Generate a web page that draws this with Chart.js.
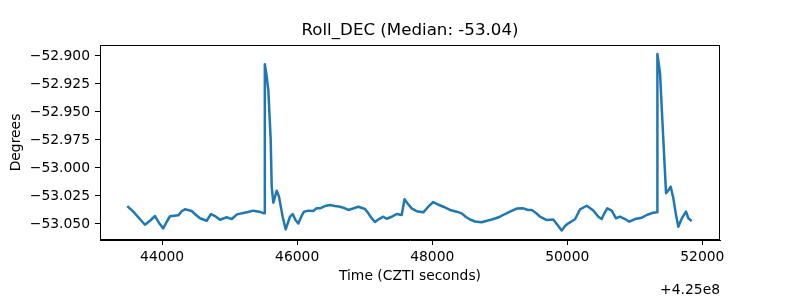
<!DOCTYPE html>
<html>
<head>
<meta charset="utf-8">
<script src="https://cdn.jsdelivr.net/npm/chart.js@4"></script>
<style>
  html, body { margin: 0; padding: 0; background: #ffffff; }
  #wrap { width: 800px; height: 300px; }
</style>
</head>
<body>
<div id="wrap"><canvas id="c" width="800" height="300"></canvas></div>
<script>
// ---- data ----
const chartTitle = 'Roll_DEC (Median: -53.04)';
const xTitle = 'Time (CZTI seconds)';
const yTitle = 'Degrees';
const xOffsetText = '+4.25e8';

// CZTI time minus 4.25e8 (seconds)
const times = [43484, 43573, 43647, 43746, 43820, 43895, 43958, 44017, 44068, 44117,
  44176, 44240, 44294, 44339, 44438, 44502, 44561, 44660, 44724, 44783,
  44857, 44956, 45031, 45109, 45202, 45272, 45350, 45439, 45509, 45521,
  45546, 45573, 45608, 45623, 45647, 45697, 45731, 45786, 45830, 45894,
  45934, 45975, 46017, 46072, 46101, 46165, 46239, 46289, 46338, 46412,
  46486, 46560, 46634, 46694, 46757, 46827, 46905, 46960, 47005, 47054,
  47101, 47153, 47212, 47276, 47326, 47390, 47474, 47548, 47590, 47641,
  47696, 47770, 47868, 47938, 48016, 48086, 48164, 48264, 48363, 48437,
  48500, 48560, 48634, 48733, 48797, 48856, 48930, 49004, 49078, 49152,
  49251, 49349, 49419, 49474, 49537, 49596, 49696, 49793, 49856, 49918,
  49967, 50016, 50115, 50189, 50288, 50386, 50460, 50510, 50552, 50593,
  50658, 50722, 50781, 50855, 50919, 51003, 51103, 51177, 51274, 51329,
  51335, 51374, 51423, 51463, 51500, 51532, 51571, 51611, 51645, 51699,
  51759, 51793, 51843];

// Roll_DEC (degrees)
const rollDec = [-53.0340, -53.0390, -53.0440, -53.0507, -53.0471, -53.0429, -53.0494, -53.0539, -53.0480, -53.0431,
  -53.0426, -53.0423, -53.0384, -53.0369, -53.0384, -53.0420, -53.0449, -53.0471, -53.0411, -53.0429,
  -53.0462, -53.0440, -53.0456, -53.0414, -53.0402, -53.0393, -53.0381, -53.0390, -53.0405, -52.9074,
  -52.9170, -52.9304, -52.9750, -53.0167, -53.0310, -53.0203, -53.0256, -53.0438, -53.0548, -53.0435,
  -53.0411, -53.0465, -53.0496, -53.0420, -53.0390, -53.0381, -53.0384, -53.0360, -53.0360, -53.0340,
  -53.0331, -53.0340, -53.0346, -53.0357, -53.0375, -53.0362, -53.0346, -53.0357, -53.0366, -53.0405,
  -53.0447, -53.0482, -53.0456, -53.0435, -53.0453, -53.0438, -53.0411, -53.0420, -53.0280, -53.0322,
  -53.0360, -53.0386, -53.0396, -53.0348, -53.0304, -53.0326, -53.0346, -53.0375, -53.0390, -53.0405,
  -53.0438, -53.0460, -53.0478, -53.0485, -53.0473, -53.0465, -53.0451, -53.0435, -53.0411, -53.0390,
  -53.0362, -53.0360, -53.0375, -53.0375, -53.0402, -53.0435, -53.0465, -53.0460, -53.0509, -53.0558,
  -53.0518, -53.0494, -53.0458, -53.0369, -53.0337, -53.0380, -53.0435, -53.0456, -53.0402, -53.0360,
  -53.0381, -53.0449, -53.0435, -53.0456, -53.0480, -53.0456, -53.0444, -53.0420, -53.0399, -53.0396,
  -52.8982, -52.9154, -52.9750, -53.0226, -53.0197, -53.0167, -53.0271, -53.0420, -53.0524, -53.0447,
  -53.0390, -53.0449, -53.0473];

const xTicks = [44000, 46000, 48000, 50000, 52000];
const yTicks = [-52.900, -52.925, -52.950, -52.975, -53.000, -53.025, -53.050];

const xRange = [43080, 52262];
const yRange = [-53.0643, -52.8902];

// ---- chart ----
const FONT = 'DejaVu Sans';
const points = times.map((t, i) => ({ x: t, y: rollDec[i] }));

const framePlugin = {
  id: 'frame',
  afterDraw(chart) {
    const { ctx, chartArea: a } = chart;
    ctx.save();
    ctx.strokeStyle = '#000';
    ctx.lineWidth = 1;
    ctx.strokeRect(Math.round(a.left) + 0.5, Math.round(a.top) + 0.5,
                   Math.round(a.right - a.left) - 1, Math.round(a.bottom - a.top) - 1);
    ctx.fillStyle = '#000';
    ctx.font = '13.89px "' + FONT + '"';
    ctx.textAlign = 'right';
    ctx.textBaseline = 'middle';
    ctx.fillText(xOffsetText, a.right, 290);
    ctx.restore();
  }
};

new Chart(document.getElementById('c'), {
  type: 'line',
  data: {
    datasets: [{
      data: points,
      borderColor: '#1f77b4',
      borderWidth: 2.5,
      borderJoinStyle: 'round',
      pointRadius: 0,
      tension: 0,
      fill: false
    }]
  },
  options: {
    responsive: false,
    animation: false,
    devicePixelRatio: 1,
    layout: { padding: { left: 0, right: 80, top: 0, bottom: 0 } },
    plugins: {
      legend: { display: false },
      tooltip: { enabled: false },
      title: {
        display: true,
        text: chartTitle,
        fullSize: false,
        color: '#000',
        font: { family: FONT, size: 16.67, weight: 'normal', lineHeight: 1.2 },
        padding: { top: 21, bottom: 4 }
      }
    },
    scales: {
      x: {
        type: 'linear',
        min: xRange[0],
        max: xRange[1],
        afterFit(scale) { scale.height = 60; },
        afterBuildTicks(scale) { scale.ticks = xTicks.map(v => ({ value: v })); },
        grid: { drawOnChartArea: false, drawTicks: true, tickLength: 5, color: '#000', lineWidth: 1 },
        border: { display: true, color: '#000', width: 1 },
        ticks: {
          color: '#000',
          autoSkip: false,
          maxRotation: 0,
          padding: 4,
          font: { family: FONT, size: 13.89 },
          callback: v => String(v)
        },
        title: {
          display: true,
          text: xTitle,
          color: '#000',
          font: { family: FONT, size: 13.89, lineHeight: 1.2 },
          padding: { top: 0, bottom: 15 }
        }
      },
      y: {
        type: 'linear',
        min: yRange[0],
        max: yRange[1],
        afterFit(scale) { scale.width = 100; },
        afterBuildTicks(scale) { scale.ticks = yTicks.map(v => ({ value: v })); },
        grid: { drawOnChartArea: false, drawTicks: true, tickLength: 5, color: '#000', lineWidth: 1 },
        border: { display: true, color: '#000', width: 1 },
        ticks: {
          color: '#000',
          padding: 5,
          font: { family: FONT, size: 13.89 },
          callback: v => (v < 0 ? '\u2212' : '') + Math.abs(v).toFixed(3)
        },
        title: {
          display: true,
          text: yTitle,
          color: '#000',
          font: { family: FONT, size: 13.89, lineHeight: 1.2 },
          padding: { top: 8, bottom: 0 }
        }
      }
    }
  },
  plugins: [framePlugin]
});
</script>
</body>
</html>
